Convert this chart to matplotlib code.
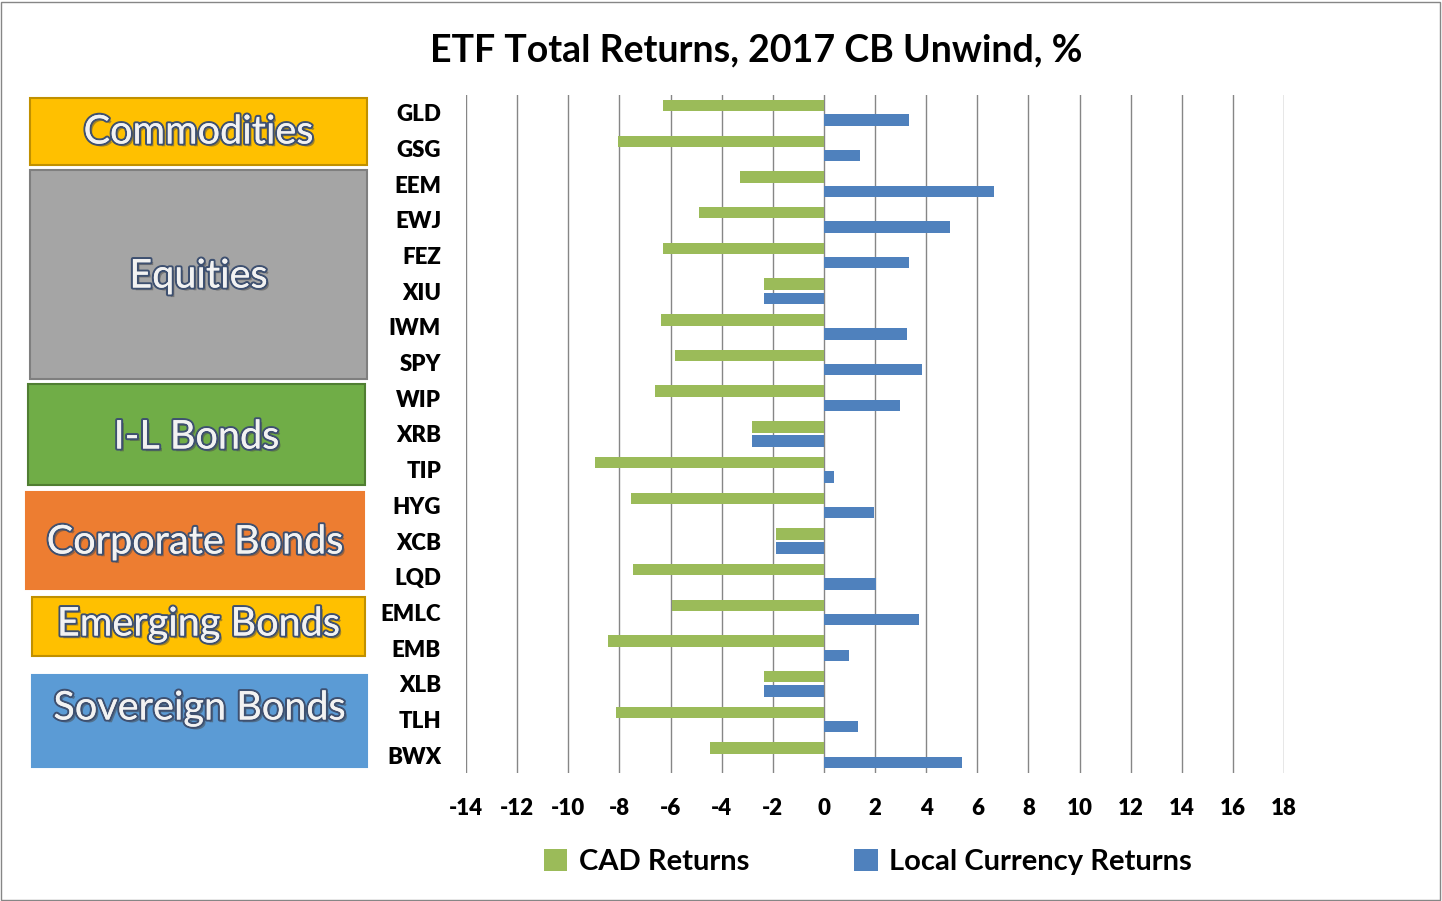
import matplotlib.pyplot as plt
import matplotlib.patheffects as pe
from matplotlib.patches import Rectangle
import numpy as np

plt.rcParams['font.family'] = ['Lato', 'DejaVu Sans']
plt.rcParams['axes.unicode_minus'] = False

tickers = ['GLD', 'GSG', 'EEM', 'EWJ', 'FEZ', 'XIU', 'IWM', 'SPY', 'WIP', 'XRB',
           'TIP', 'HYG', 'XCB', 'LQD', 'EMLC', 'EMB', 'XLB', 'TLH', 'BWX']
cad_returns = [-6.3, -8.06, -3.29, -4.89, -6.3, -2.35, -6.38, -5.83, -6.61, -2.82,
               -8.96, -7.55, -1.88, -7.47, -5.95, -8.45, -2.35, -8.14, -4.46]
local_returns = [3.33, 1.41, 6.65, 4.93, 3.33, -2.35, 3.25, 3.83, 2.97, -2.82,
                 0.39, 1.96, -1.88, 2.03, 3.72, 0.98, -2.35, 1.33, 5.40]

groups = ['Commodities', 'Equities', 'I-L Bonds', 'Corporate Bonds',
          'Emerging Bonds', 'Sovereign Bonds']
# box extents in pixels: x0, y0, x1, y1 (top-left origin)
group_boxes = [(30, 98, 367, 165), (30, 170, 367, 379), (28, 384, 365, 485),
               (26, 492, 364, 589), (32, 597, 365, 656), (32, 675, 367, 767)]
group_colors = ['#FFC000', '#A5A5A5', '#70AD47', '#ED7D31', '#FFC000', '#5B9BD5']
group_edges = ['#C09000', '#7F7F7F', '#507E32', '#ED7D31', '#C09000', '#5B9BD5']
group_text_y = [132, 276, 437, 542, 624, 708]

W, H = 1442, 901
fig = plt.figure(figsize=(W / 100, H / 100), dpi=100)

def fx(x):
    return x / W

def fy(y):
    return 1 - y / H

ax = fig.add_axes([fx(466), fy(773), fx(1284) - fx(466), fy(95) - fy(773)])

y = np.arange(len(tickers))
h = 0.32
ax.barh(y - h / 2 - 0.04, cad_returns, height=h, color='#9BBB59', label='CAD Returns')
ax.barh(y + h / 2 + 0.04, local_returns, height=h, color='#4F81BD', label='Local Currency Returns')

ax.set_xlim(-14, 18)
ax.set_ylim(len(tickers) - 0.5, -0.5)
ax.set_xticks(np.arange(-14, 19, 2))
ax.set_yticks(y)
ax.set_yticklabels(tickers)
ax.grid(axis='x', color='#868686', linewidth=1)
ax.set_axisbelow(True)
for s in ax.spines.values():
    s.set_visible(False)
ax.tick_params(axis='both', length=0, labelsize=16)
ax.tick_params(axis='x', pad=18)
ax.tick_params(axis='y', pad=18)
for lbl in ax.get_xticklabels() + ax.get_yticklabels():
    lbl.set_fontweight('heavy')

fig.text(fx(756), fy(50), 'ETF Total Returns, 2017 CB Unwind, %', ha='center', va='center',
         fontsize=27, fontweight='bold')

effects = [pe.SimplePatchShadow(offset=(2, -2), alpha=0.5),
           pe.withStroke(linewidth=3, foreground='#3E5070'),
           pe.Normal()]
for name, (x0, y0, x1, y1), c, ec, ty in zip(groups, group_boxes, group_colors,
                                              group_edges, group_text_y):
    fig.patches.append(Rectangle((fx(x0), fy(y1)), fx(x1 - x0), (y1 - y0) / H,
                                 transform=fig.transFigure, facecolor=c,
                                 edgecolor=ec, linewidth=1.5))
    fig.text(fx((x0 + x1) / 2), fy(ty), name, ha='center', va='center', fontsize=28.5,
             color='#F2F2F2', path_effects=effects)

fig.patches.append(Rectangle((0.0005, 0.001), 0.998, 0.997, transform=fig.transFigure,
                             facecolor='none', edgecolor='#868686', linewidth=1))

leg = fig.legend(loc='center', bbox_to_anchor=(fx(868), fy(862)), ncol=2, frameon=False,
                 prop={'size': 21, 'weight': 'bold'}, handlelength=0.8, handleheight=0.8,
                 handletextpad=0.4, columnspacing=3.6)

fig.savefig('out.png', dpi=100)
